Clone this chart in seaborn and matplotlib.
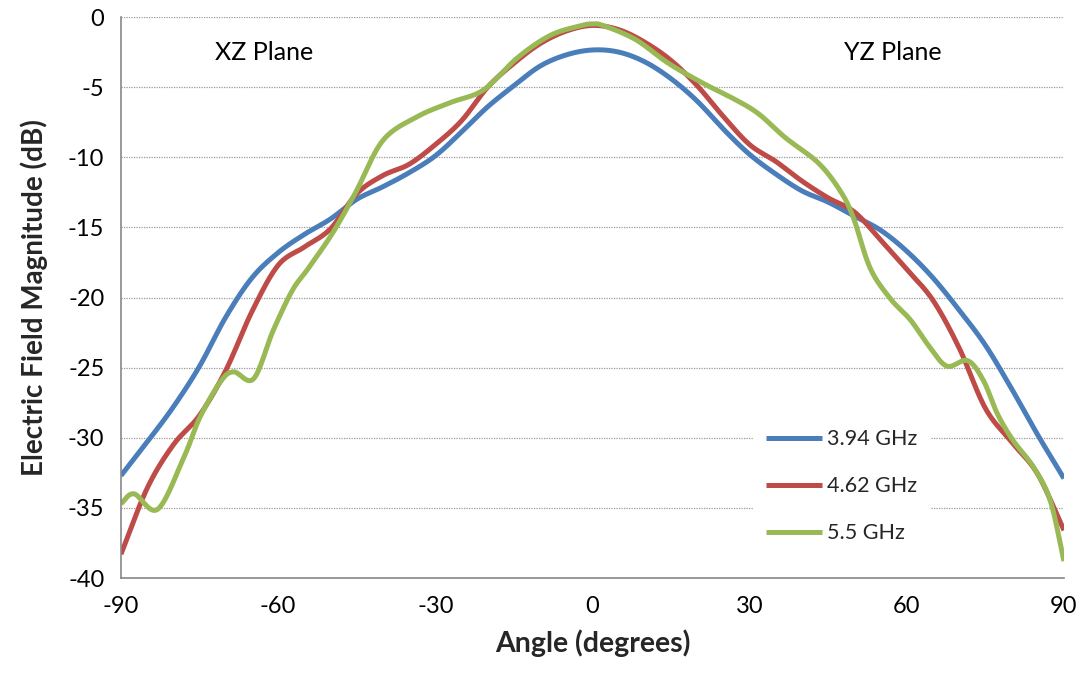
import numpy as np
import pandas as pd
import matplotlib
matplotlib.use("Agg")
import matplotlib.pyplot as plt
import seaborn as sns

# ---- data ----
series_names = ["3.94 GHz", "4.62 GHz", "5.5 GHz"]

angle_394 = [-90, -85, -80, -75, -70, -65, -60, -55, -50, -45, -40, -35, -30, -25, -20, -15, -10, -5, 0,
             5, 10, 15, 20, 25, 30, 35, 40, 45, 50, 55, 60, 65, 70, 75, 80, 85, 90]
db_394 = [-32.7, -30.3, -27.8, -24.9, -21.4, -18.6, -16.8, -15.5, -14.4, -13.0, -12.1, -11.1, -9.9, -8.2,
          -6.4, -4.9, -3.5, -2.7, -2.35, -2.5, -3.2, -4.4, -6.0, -8.0, -9.8, -11.2, -12.4, -13.2, -14.2,
          -15.2, -16.7, -18.6, -20.9, -23.4, -26.5, -29.8, -32.9]

angle_462 = [-90, -85, -80, -75, -70, -65, -60, -55, -50, -45, -40, -35, -30, -25, -20, -15, -10, -5, 0,
             5, 10, 15, 20, 25, 30, 35, 40, 45, 50, 55, 60, 65, 70, 75, 80, 85, 90]
db_462 = [-38.3, -33.6, -30.5, -28.4, -25.2, -21.0, -17.7, -16.4, -15.1, -12.6, -11.3, -10.5, -9.1, -7.4,
          -5.0, -3.3, -1.9, -1.0, -0.6, -0.9, -1.8, -3.1, -4.9, -7.1, -9.1, -10.3, -11.7, -12.9, -13.9,
          -15.9, -18.0, -20.2, -23.6, -27.9, -30.3, -32.6, -36.6]

angle_55 = [-90, -87.5, -83, -78, -75, -71, -68.5, -64.7, -61, -57.3, -54.2, -49.6, -45.2, -40, -33.4,
            -27.1, -20.8, -14.3, -8, -2, 0, 2, 8.2, 14.5, 21, 27.3, 31.7, 36.8, 43.1, 47.3, 49.8, 53,
            56.9, 60.7, 64.5, 67.7, 71.6, 74.6, 77.3, 80.3, 84.2, 87.4, 90]
db_55 = [-34.7, -34.0, -35.1, -31.4, -28.6, -26.0, -25.3, -25.8, -22.4, -19.5, -17.9, -15.4, -12.5, -8.8,
         -7.1, -6.1, -5.2, -2.9, -1.3, -0.6, -0.5, -0.6, -1.6, -3.3, -4.7, -5.9, -6.9, -8.6, -10.4, -12.4,
         -14.3, -17.9, -20.1, -21.6, -23.6, -24.9, -24.5, -25.9, -28.3, -30.2, -32.1, -34.5, -38.8]

x_ticks = [-90, -60, -30, 0, 30, 60, 90]
y_ticks = [0, -5, -10, -15, -20, -25, -30, -35, -40]
colors = ["#4A7EBB", "#BE4B48", "#98B954"]


def smooth(xs, ys, n=16):
    """Catmull-Rom rendering (like a spreadsheet 'smoothed line') through the read points."""
    xs = np.asarray(xs, float)
    ys = np.asarray(ys, float)
    P = np.column_stack([xs, ys])
    P = np.vstack([2 * P[0] - P[1], P, 2 * P[-1] - P[-2]])
    out = []
    for i in range(1, len(P) - 2):
        p0, p1, p2, p3 = P[i - 1], P[i], P[i + 1], P[i + 2]
        t = np.linspace(0, 1, n, endpoint=False)[:, None]
        pts = 0.5 * ((2 * p1) + (-p0 + p2) * t + (2 * p0 - 5 * p1 + 4 * p2 - p3) * t ** 2
                     + (-p0 + 3 * p1 - 3 * p2 + p3) * t ** 3)
        out.append(pts)
    out.append(P[-2][None, :])
    out = np.vstack(out)
    return out[:, 0], out[:, 1]


frames = []
for name, ax_, ay_ in zip(series_names, [angle_394, angle_462, angle_55], [db_394, db_462, db_55]):
    sx, sy = smooth(ax_, ay_)
    frames.append(pd.DataFrame({"Angle": sx, "dB": sy, "Series": name, "order": np.arange(len(sx))}))
df = pd.concat(frames, ignore_index=True)

sns.set_theme(style="white")
plt.rcParams['font.family'] = ['Lato', 'DejaVu Sans']

fig = plt.figure(figsize=(10.86, 6.75), dpi=100)
ax = fig.add_axes([0.1114, 0.1437, 0.9797 - 0.1114, 0.9748 - 0.1437])

sns.lineplot(data=df, x="Angle", y="dB", hue="Series", hue_order=series_names,
             palette=colors, sort=False, estimator=None, units="Series",
             linewidth=3.6, ax=ax, legend=True)
for ln in ax.get_lines():
    ln.set_solid_capstyle("butt")

ax.set_xlim(-90, 90)
ax.set_ylim(-40, 0)
ax.set_xticks(x_ticks)
ax.set_xticklabels([str(v) for v in x_ticks])
ax.set_yticks(y_ticks)
ax.set_yticklabels([str(v) for v in y_ticks])

ax.yaxis.grid(True, linestyle=(0, (1, 1)), color="#9a9a9a", linewidth=0.9)
ax.xaxis.grid(False)
ax.set_axisbelow(True)

for s in ["top", "right"]:
    ax.spines[s].set_visible(False)
for s in ["left", "bottom"]:
    ax.spines[s].set_color("#888888")
    ax.spines[s].set_linewidth(1.2)
ax.tick_params(axis="both", which="major", direction="out", length=6, width=1.2,
               color="#888888", labelsize=17, labelcolor="#000000")
ax.tick_params(axis="x", pad=7)
ax.tick_params(axis="y", pad=6)

ax.set_xlabel("Angle (degrees)", fontsize=20.5, fontweight="bold", labelpad=9)
ax.set_ylabel("Electric Field Magnitude (dB)", fontsize=20, fontweight="bold", labelpad=14)

ax.text(-62.6, -2.5, "XZ Plane", fontsize=18, ha="center", va="center", color="#000000")
ax.text(57.4, -2.5, "YZ Plane", fontsize=18, ha="center", va="center", color="#000000")

leg = ax.legend(loc="upper left", bbox_to_anchor=(0.659, 0.307), frameon=True, fontsize=15.5,
                handlelength=2.6, handletextpad=0.25, labelspacing=1.25, borderpad=0.6,
                title=None)
leg.get_frame().set_facecolor("white")
leg.get_frame().set_edgecolor("none")
leg.get_frame().set_alpha(1.0)
for h in leg.get_lines():
    h.set_linewidth(3.6)

fig.savefig("out.png", dpi=100)
